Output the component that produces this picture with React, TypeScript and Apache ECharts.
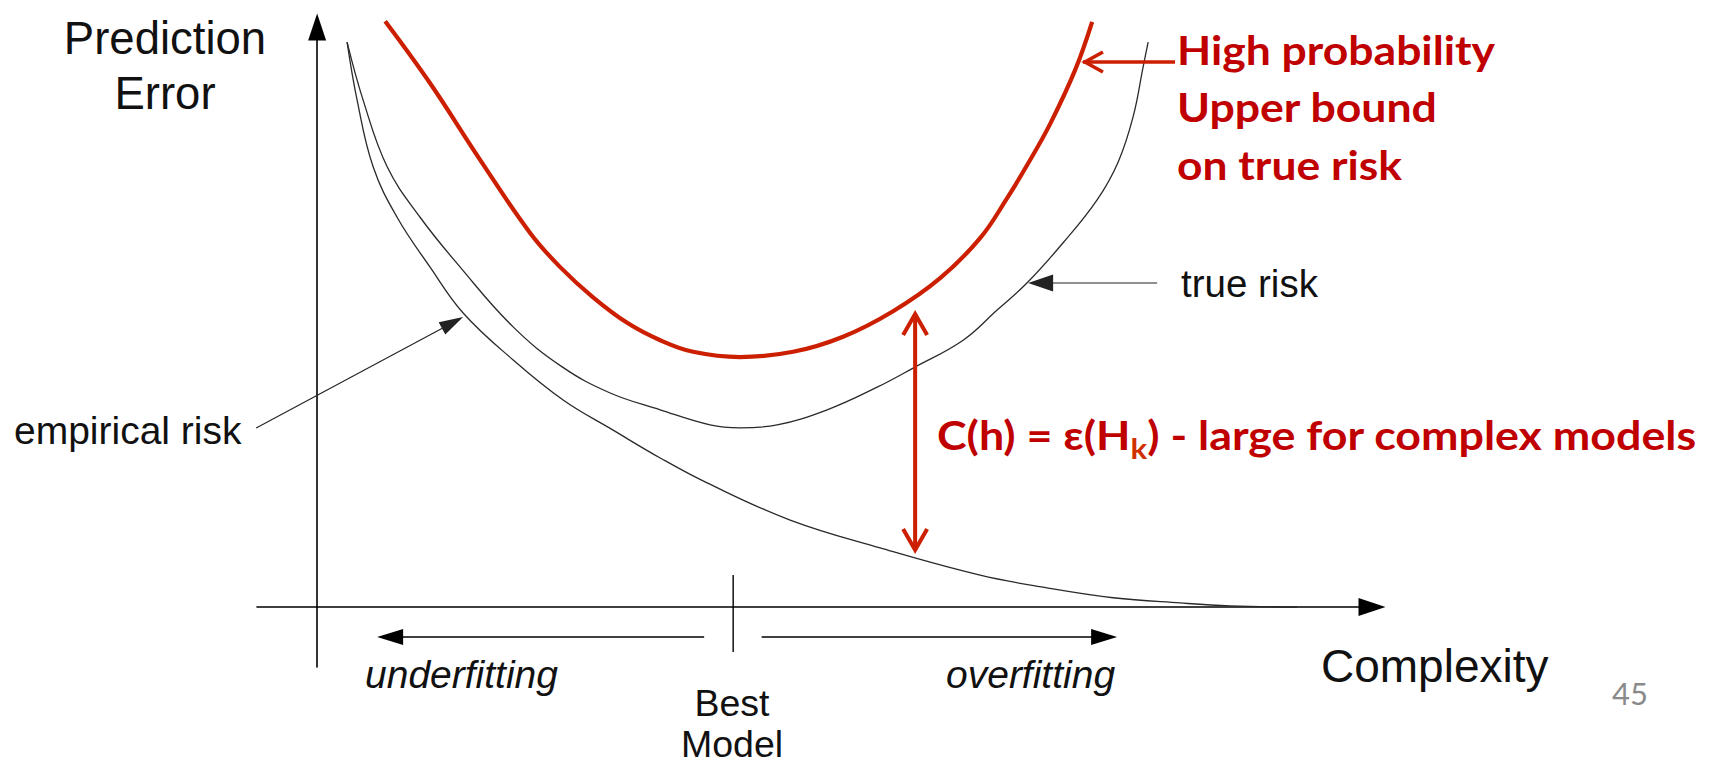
import React, { useEffect, useRef } from "react";
import * as echarts from "echarts";

// ---------- data (complexity, prediction error) in chart units ----------
const upperBound: number[][] = [
  [6.45, 101.0], [10.71, 90.3], [15.45, 77.1], [20.19, 64.5], [23.04, 58.6],
  [26.16, 53.4], [29.39, 49.0], [32.52, 46.0], [35.64, 44.0], [40.1, 43.1],
  [45.12, 44.0], [49.86, 46.6], [54.6, 51.0], [59.06, 56.7], [62.85, 63.6],
  [65.41, 70.5], [67.31, 76.2], [69.49, 83.3], [71.86, 92.6], [73.47, 100.9],
];
const trueRisk: number[][] = [
  [2.84, 97.4], [4.36, 87.4], [6.64, 75.9], [9.76, 67.2], [13.56, 58.6],
  [18.58, 48.3], [23.23, 41.4], [27.78, 36.9], [32.52, 34.0], [37.25, 31.4],
  [40.1, 30.9], [43.61, 31.4], [48.35, 34.0], [53.09, 37.9], [56.5, 41.2],
  [61.24, 46.0], [64.46, 51.2], [67.31, 55.9], [70.72, 62.8], [73.94, 70.2],
  [75.93, 76.7], [77.35, 84.5], [78.3, 93.1], [78.78, 97.4],
];
const empiricalRisk: number[][] = [
  [2.84, 97.4], [3.79, 87.4], [5.31, 75.9], [7.58, 67.2], [10.71, 58.6],
  [13.84, 50.7], [18.58, 42.6], [23.32, 35.7], [28.06, 30.5], [32.52, 25.7],
  [36.97, 21.4], [44.84, 15.0], [53.37, 10.2], [62.85, 5.5], [69.2, 3.3],
  [75.46, 1.6], [81.81, 0.7], [86.55, 0.2], [92.9, 0.0],
];

// axis extents
const xRange = [-5.7, 100];
const yRange = [-10.34, 100];

// annotation anchors (chart units)
const bestModelX = 39.44;
const bestTick = [5.52, -7.76];
const fitArrowY = -5.17;
const underfitArrow = [36.69, 5.69]; // from -> to
const overfitArrow = [42.14, 75.84];
const empiricalPointer = [[-5.78, 30.86], [13.84, 50.0]];
const truePointer = [[79.63, 55.86], [67.4, 55.86]];
const boundPointer = [[81.33, 93.97], [72.6, 93.97]];
const gapArrow = { x: 56.69, top: 50.86, bottom: 9.48 };

// texts
const yTitle = ["Prediction", "Error"];
const xTitle = "Complexity";
const redNote = ["High probability", "Upper bound", "on true risk"];
const gapNote = ["C(h) = \u03b5(H", "k", ") - large for complex models"];

const RED_LINE = "#CC1F00";
const RED_TEXT = "#C00000";
const INK = "#111111";

function measure(text: string, font: string): number {
  const c = document.createElement("canvas").getContext("2d")!;
  c.font = font;
  return c.measureText(text).width;
}

export default function App() {
  const ref = useRef<HTMLDivElement>(null);
  useEffect(() => {
    const el = ref.current!;
    const chart = echarts.init(el, null, { renderer: "svg" });
    const axisCommon = {
      type: "value" as const,
      axisLine: {
        show: true,
        onZero: true,
        symbol: ["none", "triangle"],
        symbolSize: [18, 27],
        lineStyle: { color: "#000", width: 1.6 },
      },
      axisTick: { show: false },
      axisLabel: { show: false },
      splitLine: { show: false },
    };
    chart.setOption({
      animation: false,
      backgroundColor: "#fff",
      grid: { left: 257, right: 348, top: 27, bottom: 98, containLabel: false },
      xAxis: { ...axisCommon, min: xRange[0], max: xRange[1] },
      yAxis: { ...axisCommon, min: yRange[0], max: yRange[1] },
      series: [
        {
          name: "empirical risk", type: "line", data: empiricalRisk, showSymbol: false,
          smooth: 0.4, clip: false, z: 3,
          lineStyle: { color: "#2a2a2a", width: 1.3 },
        },
        {
          name: "true risk", type: "line", data: trueRisk, showSymbol: false,
          smooth: 0.4, clip: false, z: 3,
          lineStyle: { color: "#2a2a2a", width: 1.3 },
        },
        {
          name: "upper bound", type: "line", data: upperBound, showSymbol: false,
          smooth: 0.4, clip: false, z: 4,
          lineStyle: { color: RED_LINE, width: 4.2 },
        },
      ],
    });

    const P = (p: number[]) => chart.convertToPixel({ gridIndex: 0 }, p) as number[];
    const els: any[] = [];

    const filledArrow = (tail: number[], tip: number[], len: number, w: number, color: string, lw: number) => {
      const dx = tip[0] - tail[0], dy = tip[1] - tail[1];
      const L = Math.hypot(dx, dy);
      const ux = dx / L, uy = dy / L, nx = -uy, ny = ux;
      const bx = tip[0] - ux * len, by = tip[1] - uy * len;
      els.push({ type: "line", z: 20, silent: true, shape: { x1: tail[0], y1: tail[1], x2: bx + ux * 2, y2: by + uy * 2 }, style: { stroke: color, lineWidth: lw } });
      els.push({ type: "polygon", z: 20, silent: true, shape: { points: [[tip[0], tip[1]], [bx + nx * w / 2, by + ny * w / 2], [bx - nx * w / 2, by - ny * w / 2]] }, style: { fill: color } });
    };
    const chevron = (tip: number[], from: number[], depth: number, half: number, color: string, lw: number) => {
      const dx = tip[0] - from[0], dy = tip[1] - from[1];
      const L = Math.hypot(dx, dy);
      const ux = dx / L, uy = dy / L, nx = -uy, ny = ux;
      const bx = tip[0] - ux * depth, by = tip[1] - uy * depth;
      els.push({ type: "polyline", z: 21, silent: true, shape: { points: [[bx + nx * half, by + ny * half], [tip[0] - ux * 2, tip[1] - uy * 2], [bx - nx * half, by - ny * half]] }, style: { stroke: color, lineWidth: lw, fill: "none", lineJoin: "miter" } });
    };

    // best model tick
    const t1 = P([bestModelX, bestTick[0]]), t2 = P([bestModelX, bestTick[1]]);
    els.push({ type: "line", z: 20, silent: true, shape: { x1: t1[0], y1: t1[1], x2: t2[0], y2: t2[1] }, style: { stroke: "#000", lineWidth: 1.4 } });
    // underfitting / overfitting arrows
    filledArrow(P([underfitArrow[0], fitArrowY]), P([underfitArrow[1], fitArrowY]), 26, 16, "#000", 1.4);
    filledArrow(P([overfitArrow[0], fitArrowY]), P([overfitArrow[1], fitArrowY]), 26, 16, "#000", 1.4);
    // pointer arrows
    filledArrow(P(empiricalPointer[0]), P(empiricalPointer[1]), 24, 14, "#222", 1.1);
    filledArrow(P(truePointer[0]), P(truePointer[1]), 25, 17, "#222", 1.2);
    // red upper-bound pointer
    const bp0 = P(boundPointer[0]), bp1 = P(boundPointer[1]);
    els.push({ type: "line", z: 21, silent: true, shape: { x1: bp0[0], y1: bp0[1], x2: bp1[0], y2: bp1[1] }, style: { stroke: RED_LINE, lineWidth: 3.6 } });
    chevron(bp1, bp0, 20, 10, RED_LINE, 3.6);
    // red gap arrow
    const g0 = P([gapArrow.x, gapArrow.top]), g1 = P([gapArrow.x, gapArrow.bottom]);
    els.push({ type: "line", z: 21, silent: true, shape: { x1: g0[0], y1: g0[1] + 2, x2: g1[0], y2: g1[1] - 2 }, style: { stroke: RED_LINE, lineWidth: 4 } });
    chevron(g0, g1, 23, 12, RED_LINE, 4);
    chevron(g1, g0, 23, 12, RED_LINE, 4);

    // black texts
    const txt = (text: string, x: number, y: number, size: number, align: string, extra: any = {}) => {
      els.push({
        type: "text", z: 22, silent: true, x, y,
        style: {
          text, x: 0, y: 0, fill: INK, fontFamily: "Liberation Sans, Arial, sans-serif", fontSize: size,
          align, textAlign: align, verticalAlign: "middle", textVerticalAlign: "middle", ...extra,
        },
      });
    };
    txt(yTitle[0], 165, 38, 45.5, "center");
    txt(yTitle[1], 165, 93, 45.5, "center");
    txt(xTitle, 1321, 666, 46, "left");
    txt("empirical risk", 14, 430, 39, "left");
    txt("true risk", 1181, 283, 38.5, "left");
    txt("underfitting", 365, 674, 39, "left", { fontStyle: "italic" });
    txt("overfitting", 946, 674, 39, "left", { fontStyle: "italic" });
    txt("Best", 732, 703, 37.5, "center");
    txt("Model", 732, 744, 37.5, "center");

    // red texts (Calibri-like bold), squeezed to the original widths
    const RF = "Lato, 'Open Sans', sans-serif";
    const rsize = 40;
    const rfont = `bold ${rsize}px Lato`;
    const redLines = [
      { t: redNote[0], y: 49, w: 318 },
      { t: redNote[1], y: 106, w: 261 },
      { t: redNote[2], y: 164, w: 225 },
    ];
    redLines.forEach((r) => {
      const s = r.w / measure(r.t, rfont);
      els.push({
        type: "text", z: 22, silent: true, x: 1177, y: r.y, scaleX: s,
        style: { text: r.t, x: 0, y: 0, fill: RED_TEXT, fontFamily: RF, fontWeight: "bold", fontSize: rsize, align: "left", verticalAlign: "middle" },
      });
    });
    const subSize = 28;
    const gapW = measure(gapNote[0] + gapNote[2], rfont) + measure(gapNote[1], `bold ${subSize}px Lato`);
    const gs = 760 / gapW;
    els.push({
      type: "text", z: 22, silent: true, x: 937, y: 434, scaleX: gs,
      style: {
        text: `${gapNote[0]}{sub|${gapNote[1]}}${gapNote[2]}`, x: 0, y: 0, fill: RED_TEXT,
        fontFamily: RF, fontWeight: "bold", fontSize: rsize, lineHeight: 56,
        align: "left", verticalAlign: "middle",
        rich: { sub: { fontSize: subSize, fontWeight: "bold", fontFamily: RF, fill: "#D03000", color: "#D03000", lineHeight: 30, verticalAlign: "bottom" } },
      },
    });
    // slide number
    els.push({
      type: "text", z: 22, silent: true, x: 1612, y: 693,
      style: { text: "45", x: 0, y: 0, fill: "#8a8a8a", fontFamily: RF, fontSize: 31, align: "left", verticalAlign: "middle" },
    });

    chart.setOption({ graphic: { elements: els } });
    return () => chart.dispose();
  }, []);
  return <div ref={ref} style={{ position: "absolute", left: 0, top: 0, width: 1720, height: 765 }} />;
}
